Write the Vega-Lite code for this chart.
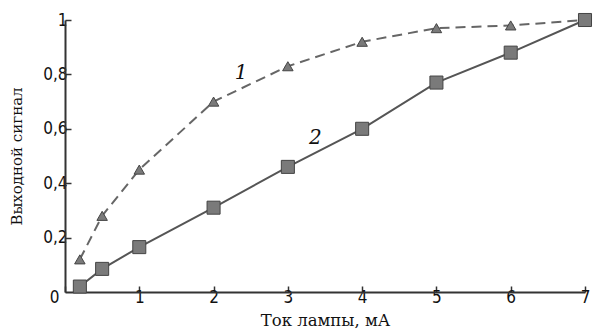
{
  "$schema": "https://vega.github.io/schema/vega-lite/v6.json",
  "width": 520,
  "height": 272,
  "autosize": "none",
  "padding": {"left": 65, "top": 20, "right": 8, "bottom": 39},
  "background": "white",
  "config": {"view": {"stroke": null}},
  "datasets": {
    "pts": [
      {"x": 0.2, "y": 0.12, "s": "1"},
      {"x": 0.5, "y": 0.28, "s": "1"},
      {"x": 1, "y": 0.45, "s": "1"},
      {"x": 2, "y": 0.70, "s": "1"},
      {"x": 3, "y": 0.83, "s": "1"},
      {"x": 4, "y": 0.92, "s": "1"},
      {"x": 5, "y": 0.97, "s": "1"},
      {"x": 6, "y": 0.98, "s": "1"},
      {"x": 7, "y": 1.0, "s": "1"},
      {"x": 0.2, "y": 0.02, "s": "2"},
      {"x": 0.5, "y": 0.085, "s": "2"},
      {"x": 1, "y": 0.165, "s": "2"},
      {"x": 2, "y": 0.31, "s": "2"},
      {"x": 3, "y": 0.46, "s": "2"},
      {"x": 4, "y": 0.60, "s": "2"},
      {"x": 5, "y": 0.77, "s": "2"},
      {"x": 6, "y": 0.88, "s": "2"},
      {"x": 7, "y": 1.0, "s": "2"}
    ],
    "labels": [
      {"x": 2.37, "y": 0.805, "t": "1"},
      {"x": 3.37, "y": 0.565, "t": "2"}
    ]
  },
  "layer": [
    {
      "data": {"name": "pts"},
      "transform": [{"filter": "datum.s == '1'"}],
      "mark": {"type": "line", "color": "#666", "strokeWidth": 2, "strokeDash": [10, 6]},
      "encoding": {
        "x": {"field": "x", "type": "quantitative", "scale": {"domain": [0, 7], "nice": false},
          "axis": {"values": [0,1,2,3,4,5,6,7], "format": "d", "title": "Ток лампы, мА", "grid": false,
            "labelFlush": false, "labelOverlap": false,
            "labelOffset": {"condition": {"test": "datum.value == 0", "value": -11}, "value": 0},
            "domainColor": "#333", "domainWidth": 2, "tickColor": "#333", "tickWidth": 1.5, "tickSize": -6,
            "labelFont": "DejaVu Sans Condensed, Liberation Sans Narrow, Liberation Sans", "labelFontSize": 17, "labelColor": "#111", "labelPadding": 3,
            "titleFont": "DejaVu Serif", "titleFontSize": 16.5, "titleFontWeight": "normal", "titleColor": "#111", "titlePadding": 7}},
        "y": {"field": "y", "type": "quantitative", "scale": {"domain": [0, 1], "nice": false},
          "axis": {"values": [0.2,0.4,0.6,0.8,1], "title": "Выходной сигнал", "grid": false,
            "labelExpr": "datum.value == 1 ? '1' : replace(format(datum.value, '.1f'), '.', ',')",
            "domainColor": "#333", "domainWidth": 2, "tickColor": "#333", "tickWidth": 1.5, "tickSize": -6,
            "labelFont": "DejaVu Sans Condensed, Liberation Sans Narrow, Liberation Sans", "labelFontSize": 17, "labelColor": "#111", "labelPadding": 4,
            "titleFont": "DejaVu Serif", "titleFontSize": 15, "titleFontWeight": "normal", "titleColor": "#111", "titlePadding": 18}}
      }
    },
    {
      "data": {"name": "pts"},
      "transform": [{"filter": "datum.s == '2'"}],
      "mark": {"type": "line", "color": "#555", "strokeWidth": 2},
      "encoding": {
        "x": {"field": "x", "type": "quantitative"},
        "y": {"field": "y", "type": "quantitative"}
      }
    },
    {
      "data": {"name": "pts"},
      "transform": [{"filter": "datum.s == '1'"}],
      "mark": {"type": "point", "shape": "triangle-up", "filled": true, "size": 110, "fill": "#7a7a7a", "stroke": "#444", "strokeWidth": 1, "opacity": 1},
      "encoding": {
        "x": {"field": "x", "type": "quantitative"},
        "y": {"field": "y", "type": "quantitative"}
      }
    },
    {
      "data": {"name": "pts"},
      "transform": [{"filter": "datum.s == '2'"}],
      "mark": {"type": "point", "shape": "square", "filled": true, "size": 170, "fill": "#7a7a7a", "stroke": "#444", "strokeWidth": 1, "opacity": 1},
      "encoding": {
        "x": {"field": "x", "type": "quantitative"},
        "y": {"field": "y", "type": "quantitative"}
      }
    },
    {
      "data": {"name": "labels"},
      "mark": {"type": "text", "font": "DejaVu Serif", "fontStyle": "italic", "fontSize": 20, "color": "#111", "align": "center", "baseline": "middle"},
      "encoding": {
        "x": {"field": "x", "type": "quantitative"},
        "y": {"field": "y", "type": "quantitative"},
        "text": {"field": "t"}
      }
    }
  ]
}
